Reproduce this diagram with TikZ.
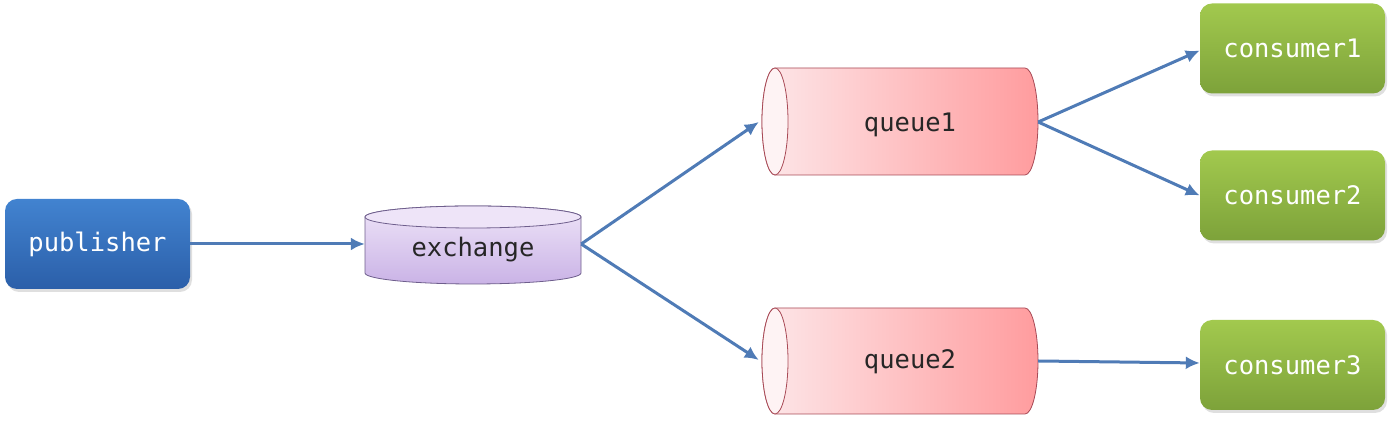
\documentclass[tikz,border=0pt]{standalone}
\usepackage{fontspec}
\setmonofont{DejaVu Sans Mono}
\usetikzlibrary{arrows.meta,shadows}
\definecolor{pubtop}{HTML}{4283D0}
\definecolor{pubbot}{HTML}{2B5FA9}
\definecolor{contop}{HTML}{A2C94E}
\definecolor{conbot}{HTML}{7DA23A}
\definecolor{exctop}{HTML}{EEE4F8}
\definecolor{excbot}{HTML}{CAB3E6}
\definecolor{excline}{HTML}{6E5E8C}
\definecolor{qleft}{HTML}{FDE7E9}
\definecolor{qright}{HTML}{FF9C9E}
\definecolor{qline}{HTML}{A84A56}
\definecolor{arrowc}{HTML}{4F7BB6}
\begin{document}
\begin{tikzpicture}[x=1pt,y=1pt,
  lbl/.style={font=\ttfamily\fontsize{25.5}{30}\selectfont},
  boxnode/.style={lbl, text=white, rounded corners=12pt, minimum width=185pt, minimum height=90pt,
     drop shadow={opacity=0.25, shadow xshift=2pt, shadow yshift=-3pt}},
  pubbox/.style={boxnode, top color=pubtop, bottom color=pubbot},
  conbox/.style={boxnode, top color=contop, bottom color=conbot},
  cyltext/.style={lbl, text=black!85, inner sep=0pt},
  conn/.style={draw=arrowc, line width=3pt, -{Latex[length=14pt,width=13pt]}}
]
\useasboundingbox (0,0) rectangle (1398,427);

% publisher
\node[pubbox] (pub) at (97.5,183) {publisher};

% consumers
\node[conbox] (c1) at (1292.5,378.5) {consumer1};
\node[conbox] (c2) at (1292.5,231.5) {consumer2};
\node[conbox] (c3) at (1292.5,62) {consumer3};

% exchange cylinder (vertical)
\shade[top color=exctop, bottom color=excbot, draw=excline, line width=0.8pt]
  (365,210) -- (365,154) arc[start angle=180, end angle=360, x radius=108, y radius=11]
  -- (581,210) arc[start angle=0, end angle=180, x radius=108, y radius=11] -- cycle;
\filldraw[fill=exctop, draw=excline, line width=0.8pt] (473,210) ellipse[x radius=108, y radius=11];
\node[cyltext, minimum width=216pt, minimum height=60pt] (ex) at (473,177) {exchange};

% queue1 cylinder (horizontal)
\shade[left color=qleft, right color=qright, draw=qline, line width=0.8pt]
  (775,359) -- (1025,359) arc[start angle=90, end angle=-90, x radius=13, y radius=53.5]
  -- (775,252) arc[start angle=270, end angle=90, x radius=13, y radius=53.5] -- cycle;
\filldraw[fill=qleft!50!white, draw=qline, line width=0.8pt] (775,305.5) ellipse[x radius=13, y radius=53.5];
\node[cyltext, minimum width=276pt, minimum height=100pt] (q1) at (900,302) {\hspace*{20pt}queue1};

% queue2 cylinder (horizontal)
\shade[left color=qleft, right color=qright, draw=qline, line width=0.8pt]
  (775,119) -- (1025,119) arc[start angle=90, end angle=-90, x radius=13, y radius=53]
  -- (775,13) arc[start angle=270, end angle=90, x radius=13, y radius=53] -- cycle;
\filldraw[fill=qleft!50!white, draw=qline, line width=0.8pt] (775,66) ellipse[x radius=13, y radius=53];
\node[cyltext, minimum width=276pt, minimum height=100pt] (q2) at (900,65) {\hspace*{20pt}queue2};

% connectors
\draw[conn] (pub.east) -- ([yshift=6pt]ex.west);
\draw[conn] ([yshift=6pt]ex.east) -- ([xshift=-3pt,yshift=3pt]q1.west);
\draw[conn] ([yshift=6pt]ex.east) -- ([xshift=-3pt,yshift=2pt]q2.west);
\draw[conn] ([yshift=3pt]q1.east) -- ([yshift=-2pt]c1.west);
\draw[conn] ([yshift=3pt]q1.east) -- (c2.west);
\draw[conn] ([yshift=1pt]q2.east) -- ([yshift=2pt]c3.west);
\end{tikzpicture}
\end{document}
